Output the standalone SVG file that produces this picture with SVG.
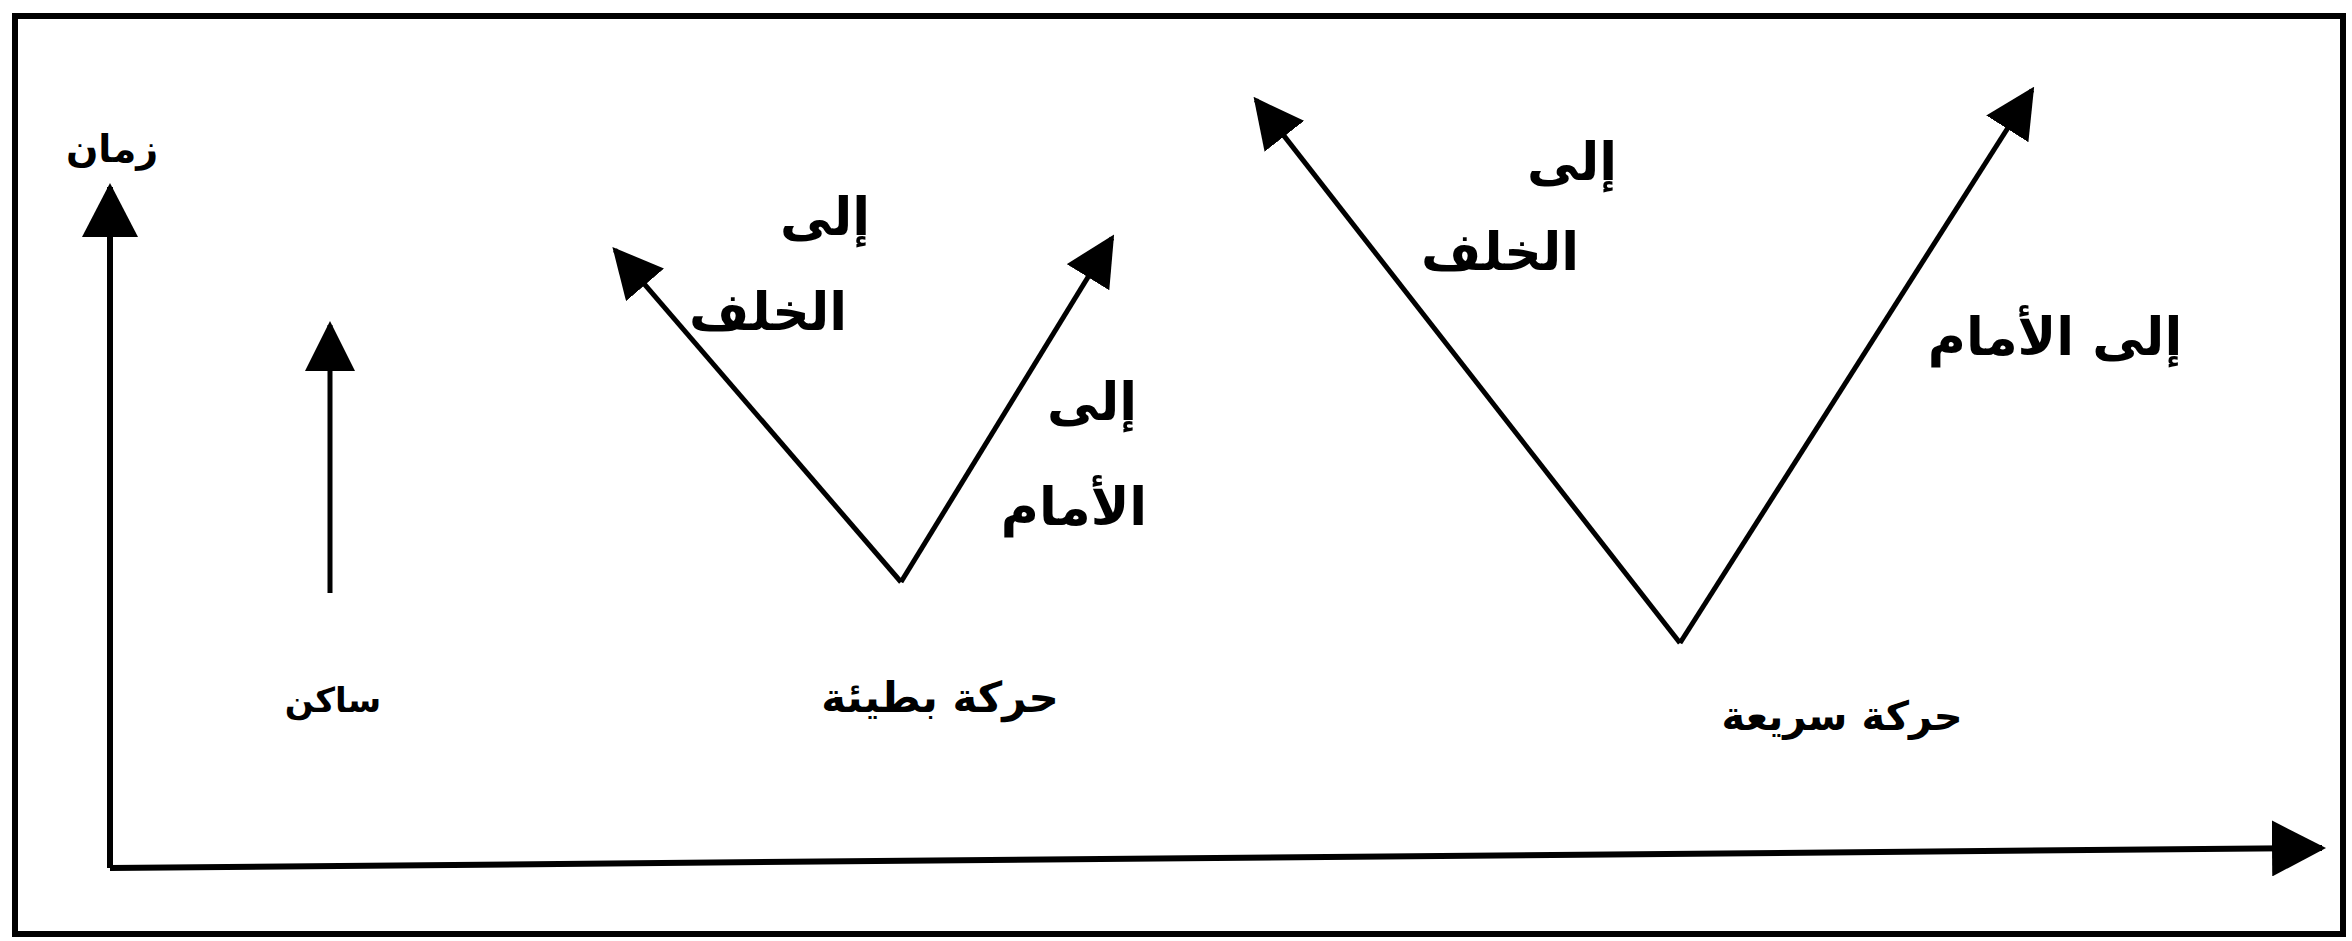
<svg xmlns="http://www.w3.org/2000/svg" width="2352" height="941" viewBox="0 0 2352 941">
<defs>
<style>
.ln{stroke:#000;stroke-width:5;fill:none;stroke-linecap:butt}
.ax{stroke:#000;stroke-width:6;fill:none}
.frame{stroke:#000;stroke-width:6;fill:none}
.t{font-family:'DejaVu Sans',sans-serif;font-weight:bold;fill:#000;text-anchor:middle}
</style>
<marker id="ah" markerUnits="userSpaceOnUse" markerWidth="54" markerHeight="56" viewBox="0 0 54 56" refX="50" refY="28" orient="auto">
<path d="M0,0 L54,28 L0,56 z" fill="#000"/>
</marker>
<marker id="ahs" markerUnits="userSpaceOnUse" markerWidth="50" markerHeight="50" viewBox="0 0 50 50" refX="46" refY="25" orient="auto">
<path d="M0,0 L50,25 L0,50 z" fill="#000"/>
</marker>
</defs>
<rect width="2352" height="941" fill="#fff"/>
<rect id="frame" class="frame" x="15" y="16" width="2328" height="918"/>
<g id="connectors">
<line id="axis-y" class="ax" x1="110" y1="868" x2="110" y2="187" marker-end="url(#ah)"/>
<line id="axis-x" class="ax" x1="110" y1="868" x2="2322" y2="848" marker-end="url(#ah)"/>
<line id="static-arrow" class="ln" x1="330" y1="593" x2="330" y2="325" marker-end="url(#ahs)"/>
<line id="slow-back" class="ln" x1="901" y1="582" x2="615" y2="250" marker-end="url(#ahs)"/>
<line id="slow-fwd" class="ln" x1="901" y1="582" x2="1112" y2="238" marker-end="url(#ahs)"/>
<line id="fast-back" class="ln" x1="1680" y1="643" x2="1256" y2="100" marker-end="url(#ahs)"/>
<line id="fast-fwd" class="ln" x1="1680" y1="643" x2="2032" y2="90" marker-end="url(#ahs)"/>
</g>
<g id="label-time"><text class="t" x="112" y="162" font-size="38">زمان</text></g>
<g id="node-static"><text class="t" x="333" y="712" font-size="34">ساكن</text></g>
<g id="node-slow">
<text class="t" x="940" y="712" font-size="42">حركة بطيئة</text>
<text class="t" x="825" y="235" font-size="52">إلى</text>
<text class="t" x="768" y="330" font-size="52">الخلف</text>
<text class="t" x="1092" y="420" font-size="52">إلى</text>
<text class="t" x="1074" y="525" font-size="52">الأمام</text>
</g>
<g id="node-fast">
<text class="t" x="1842" y="730" font-size="40">حركة سريعة</text>
<text class="t" x="1572" y="180" font-size="52">إلى</text>
<text class="t" x="1500" y="270" font-size="52">الخلف</text>
<text class="t" x="2055" y="355" font-size="52">إلى الأمام</text>
</g>
</svg>
